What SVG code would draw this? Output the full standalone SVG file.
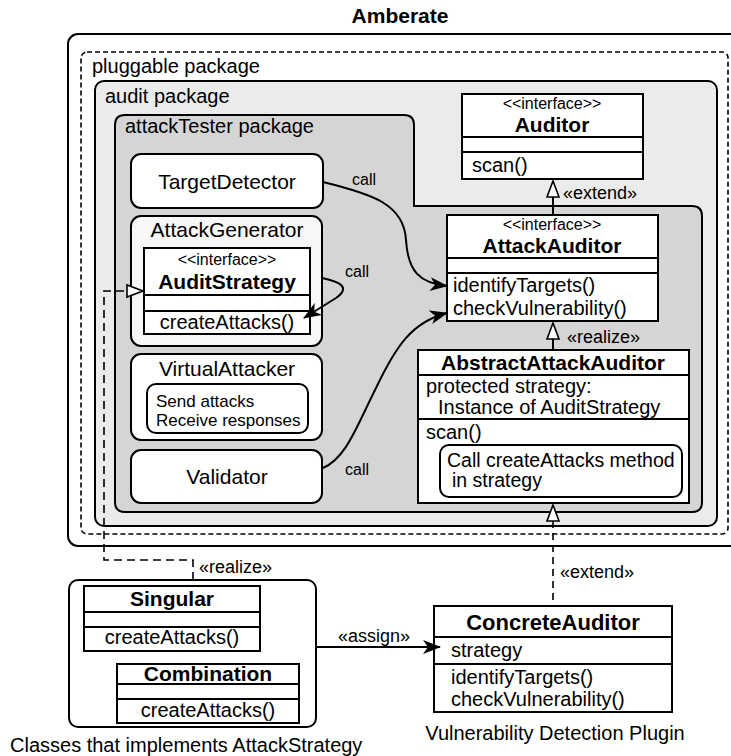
<svg xmlns="http://www.w3.org/2000/svg" width="731" height="756" viewBox="0 0 731 756">
  <defs>
    <style>
      text { font-family: "Liberation Sans", Arial, Helvetica, sans-serif; font-size: 20px; fill: #000; }
      .b { font-weight: bold; font-size: 21px; }
      .m { text-anchor: middle; }
      .n { font-size: 21px; }
      .iface { font-size: 16px; }
      .stereo { font-size: 18px; }
      .call { font-size: 16px; }
      .small { font-size: 17px; }
      .box { fill: #fff; stroke: #000; stroke-width: 2; }
      .div { stroke: #000; stroke-width: 2; fill: none; }
      .wire { stroke: #000; stroke-width: 2; fill: none; }
      .dash { stroke: #000; stroke-width: 1.6; fill: none; stroke-dasharray: 8 5; }
      .hollow { fill: #fff; stroke: #000; stroke-width: 1.6; }
    </style>
    <marker id="arrow" viewBox="0 0 18 14" refX="17" refY="7" markerWidth="18" markerHeight="14" markerUnits="userSpaceOnUse" orient="auto">
      <path d="M0,0 L18,7 L0,14 L5,7 Z" fill="#000"/>
    </marker>
  </defs>

  <rect width="731" height="756" fill="#fff"/>

  <!-- Amberate system boundary (runs off the right edge) -->
  <g id="amberate">
    <text class="b m" x="400" y="23">Amberate</text>
    <rect x="68" y="34" width="690" height="512" rx="10" fill="#fff" stroke="#000" stroke-width="2"/>
  </g>

  <!-- pluggable package -->
  <g id="pluggable-package">
    <rect x="81" y="52" width="647" height="482" rx="6" fill="none" stroke="#000" stroke-width="1.6" stroke-dasharray="5 3"/>
    <text x="92" y="73">pluggable package</text>
  </g>

  <!-- audit package -->
  <g id="audit-package">
    <rect x="95" y="81" width="622" height="445" rx="9" fill="#ebebeb" stroke="#000" stroke-width="2"/>
    <text x="105" y="103">audit package</text>
  </g>

  <!-- attackTester package (L-shaped) -->
  <g id="attacktester-package">
    <path d="M115,125 Q115,115 125,115 L404,115 Q414,115 414,125 L414,206 L692,206 Q702,206 702,216 L702,502 Q702,512 692,512 L125,512 Q115,512 115,502 Z" fill="#d5d5d5" stroke="#000" stroke-width="2"/>
    <text x="125" y="133">attackTester package</text>
  </g>

  <g id="target-detector">
    <rect x="131" y="154" width="192" height="54" rx="10" class="box"/>
    <text class="m n" x="227" y="189">TargetDetector</text>
  </g>

  <g id="attack-generator">
    <rect x="131" y="216" width="191" height="130" rx="10" fill="#f7f7f7" stroke="#000" stroke-width="2"/>
    <text class="m n" x="227" y="237">AttackGenerator</text>
  </g>

  <g id="audit-strategy">
    <rect x="144" y="248" width="166" height="86" class="box"/>
    <line x1="144" y1="295" x2="310" y2="295" class="div"/>
    <line x1="144" y1="311" x2="310" y2="311" class="div"/>
    <text class="m iface" x="227" y="265">&lt;&lt;interface&gt;&gt;</text>
    <text class="m b" x="227" y="289">AuditStrategy</text>
    <text class="m" x="227" y="329">createAttacks()</text>
  </g>

  <g id="virtual-attacker">
    <rect x="131" y="354" width="191" height="86" rx="10" class="box"/>
    <text class="m n" x="227" y="376">VirtualAttacker</text>
    <rect x="147" y="384" width="161" height="49" rx="9" class="box"/>
    <text class="small" x="156" y="407">Send attacks</text>
    <text class="small" x="156" y="426">Receive responses</text>
  </g>

  <g id="validator">
    <rect x="131" y="450" width="191" height="53" rx="10" class="box"/>
    <text class="m n" x="227" y="484">Validator</text>
  </g>

  <g id="auditor">
    <rect x="462" y="94" width="181" height="85" class="box"/>
    <line x1="462" y1="137" x2="643" y2="137" class="div"/>
    <line x1="462" y1="152" x2="643" y2="152" class="div"/>
    <text class="m iface" x="552" y="109">&lt;&lt;interface&gt;&gt;</text>
    <text class="m b" x="552" y="132">Auditor</text>
    <text x="472" y="172">scan()</text>
  </g>

  <g id="attack-auditor">
    <rect x="447" y="215" width="211" height="106" class="box"/>
    <line x1="447" y1="258" x2="658" y2="258" class="div"/>
    <line x1="447" y1="273" x2="658" y2="273" class="div"/>
    <text class="m iface" x="552" y="230">&lt;&lt;interface&gt;&gt;</text>
    <text class="m b" x="552" y="253">AttackAuditor</text>
    <text x="453" y="292">identifyTargets()</text>
    <text x="453" y="315">checkVulnerability()</text>
  </g>

  <g id="abstract-attack-auditor">
    <rect x="418" y="350" width="271" height="153" class="box"/>
    <line x1="418" y1="375" x2="689" y2="375" class="div"/>
    <line x1="418" y1="419" x2="689" y2="419" class="div"/>
    <text class="m b" x="553" y="370">AbstractAttackAuditor</text>
    <text x="426" y="393">protected strategy:</text>
    <text x="438" y="414">Instance of AuditStrategy</text>
    <text x="426" y="439">scan()</text>
    <rect x="440" y="445" width="242" height="52" rx="9" class="box"/>
    <text x="447" y="467" style="font-size:19.5px">Call createAttacks method</text>
    <text x="452" y="487" style="font-size:19.5px">in strategy</text>
  </g>

  <g id="strategy-classes">
    <rect x="69" y="580" width="247" height="147" rx="9" class="box"/>
    <text x="10" y="752">Classes that implements AttackStrategy</text>
  </g>

  <g id="singular">
    <rect x="84" y="586" width="176" height="65" class="box"/>
    <line x1="84" y1="612" x2="260" y2="612" class="div"/>
    <line x1="84" y1="627" x2="260" y2="627" class="div"/>
    <text class="m b" x="172" y="606">Singular</text>
    <text class="m" x="172" y="644">createAttacks()</text>
  </g>

  <g id="combination">
    <rect x="117" y="664" width="182" height="59" class="box"/>
    <line x1="117" y1="684" x2="299" y2="684" class="div"/>
    <line x1="117" y1="699" x2="299" y2="699" class="div"/>
    <text class="m b" x="208" y="681">Combination</text>
    <text class="m" x="208" y="717">createAttacks()</text>
  </g>

  <g id="concrete-auditor">
    <rect x="434" y="606" width="238" height="106" class="box"/>
    <line x1="434" y1="637" x2="672" y2="637" class="div"/>
    <line x1="434" y1="664" x2="672" y2="664" class="div"/>
    <text class="m b" x="553" y="630" style="font-size:22px">ConcreteAuditor</text>
    <text x="451" y="657">strategy</text>
    <text x="451" y="684">identifyTargets()</text>
    <text x="451" y="706">checkVulnerability()</text>
    <text class="m" x="555" y="740">Vulnerability Detection Plugin</text>
  </g>

  <!-- connectors -->
  <g id="connectors">
    <!-- calls -->
    <path class="wire" d="M323,182 C372,194 404,204 406,240 C408,272 420,283 447,286" marker-end="url(#arrow)"/>
    <text class="call" x="352" y="185">call</text>
    <path class="wire" d="M322,278 C342,282 350,288 336,298 L304,318" marker-end="url(#arrow)"/>
    <text class="call" x="345" y="277">call</text>
    <path class="wire" d="M323,468 C346,458 356,428 376,388 C396,346 412,322 447,313" marker-end="url(#arrow)"/>
    <text class="call" x="345" y="475">call</text>

    <!-- AttackAuditor extends Auditor -->
    <line class="wire" x1="553" y1="197" x2="553" y2="215"/>
    <polygon class="hollow" points="553,181 547,197 559,197"/>
    <text class="stereo" x="563" y="199">«extend»</text>

    <!-- AbstractAttackAuditor realizes AttackAuditor -->
    <line class="wire" x1="553" y1="339" x2="553" y2="350"/>
    <polygon class="hollow" points="553,323 547,339 559,339"/>
    <text class="stereo" x="567" y="343">«realize»</text>

    <!-- ConcreteAuditor extends AbstractAttackAuditor -->
    <line class="dash" x1="553" y1="521" x2="553" y2="606" style="stroke-dasharray:7 5"/>
    <polygon class="hollow" points="553,505 547,521 559,521"/>
    <text class="stereo" x="560" y="578">«extend»</text>

    <!-- strategy classes realize AuditStrategy -->
    <path class="dash" d="M193,580 V560 H104 V291 H127"/>
    <polygon class="hollow" points="143,291 127,285 127,297"/>
    <text class="stereo" x="199" y="573">«realize»</text>

    <!-- strategy assigned to ConcreteAuditor -->
    <path class="wire" d="M316,647 H440" marker-end="url(#arrow)"/>
    <text class="stereo" x="338" y="642">«assign»</text>
  </g>
</svg>
